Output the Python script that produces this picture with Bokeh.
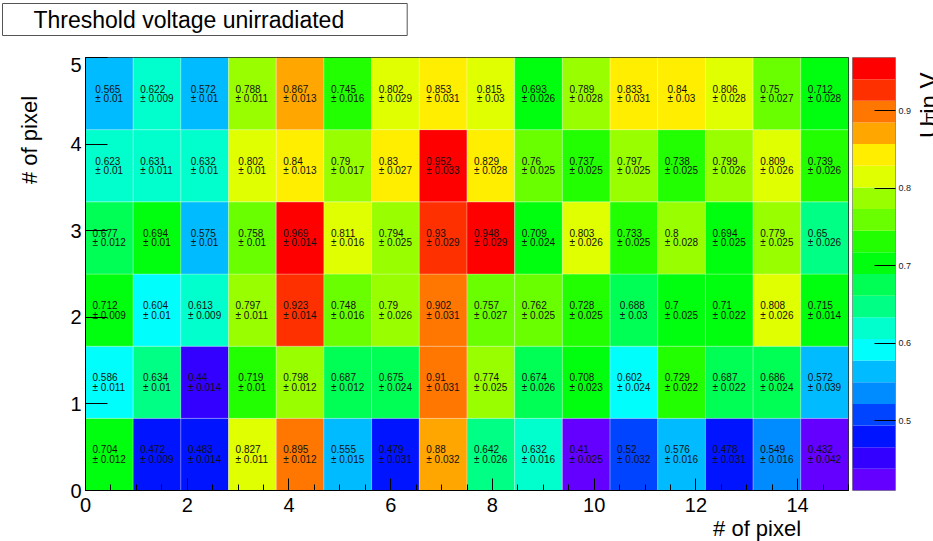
import colorsys
import math
from bokeh.plotting import figure
from bokeh.models import Range1d, FixedTicker, LinearAxis, Label, ColumnDataSource
from bokeh.layouts import row, column
from bokeh.embed import file_html
from bokeh.resources import INLINE
from bokeh.core.properties import value

# ---------------- data ----------------
n_x_bins = 16
n_y_bins = 6
x_max = 15
y_max = 5

# one list per y bin (bin 0 = bottom row)
vals_row0 = [0.704, 0.472, 0.483, 0.827, 0.895, 0.555, 0.479, 0.88, 0.642, 0.632, 0.41, 0.52, 0.576, 0.478, 0.549, 0.432]
errs_row0 = [0.012, 0.009, 0.014, 0.011, 0.012, 0.015, 0.031, 0.032, 0.026, 0.016, 0.025, 0.032, 0.016, 0.031, 0.016, 0.042]
vals_row1 = [0.586, 0.634, 0.44, 0.719, 0.798, 0.687, 0.675, 0.91, 0.774, 0.674, 0.708, 0.602, 0.729, 0.687, 0.686, 0.572]
errs_row1 = [0.011, 0.01, 0.014, 0.01, 0.012, 0.012, 0.024, 0.031, 0.025, 0.026, 0.023, 0.024, 0.022, 0.022, 0.024, 0.039]
vals_row2 = [0.712, 0.604, 0.613, 0.797, 0.923, 0.748, 0.79, 0.902, 0.757, 0.762, 0.728, 0.688, 0.7, 0.71, 0.808, 0.715]
errs_row2 = [0.009, 0.01, 0.009, 0.011, 0.014, 0.016, 0.026, 0.031, 0.027, 0.025, 0.025, 0.03, 0.025, 0.022, 0.026, 0.014]
vals_row3 = [0.677, 0.694, 0.575, 0.758, 0.969, 0.811, 0.794, 0.93, 0.948, 0.709, 0.803, 0.733, 0.8, 0.694, 0.779, 0.65]
errs_row3 = [0.012, 0.01, 0.01, 0.01, 0.014, 0.016, 0.025, 0.029, 0.029, 0.024, 0.026, 0.025, 0.028, 0.025, 0.025, 0.026]
vals_row4 = [0.623, 0.631, 0.632, 0.802, 0.84, 0.79, 0.83, 0.952, 0.829, 0.76, 0.737, 0.797, 0.738, 0.799, 0.809, 0.739]
errs_row4 = [0.01, 0.011, 0.01, 0.01, 0.013, 0.017, 0.027, 0.033, 0.028, 0.025, 0.025, 0.025, 0.025, 0.026, 0.026, 0.026]
vals_row5 = [0.565, 0.622, 0.572, 0.788, 0.867, 0.745, 0.802, 0.853, 0.815, 0.693, 0.789, 0.833, 0.84, 0.806, 0.75, 0.712]
errs_row5 = [0.01, 0.009, 0.01, 0.011, 0.013, 0.016, 0.029, 0.031, 0.03, 0.026, 0.028, 0.031, 0.03, 0.028, 0.027, 0.028]

x_major_ticks = [0, 2, 4, 6, 8, 10, 12, 14]
x_minor_ticks = [k * 0.5 for k in range(0, 31)]
y_major_ticks = [0, 1, 2, 3, 4, 5]
z_ticks = [0.5, 0.6, 0.7, 0.8, 0.9]

title_text = "Threshold voltage unirradiated"
x_title = "# of pixel"
y_title = "# of pixel"
z_title_main = "U"
z_title_sub = "T"
z_title_rest = " in V"

vals_rows = [vals_row0, vals_row1, vals_row2, vals_row3, vals_row4, vals_row5]
errs_rows = [errs_row0, errs_row1, errs_row2, errs_row3, errs_row4, errs_row5]

FONT = "Liberation Sans"

# ---------------- ROOT "pretty" palette ----------------
pretty = []
for i in range(49):
    hue = 280.0 - (i + 1) * 5.6
    r, g, b = colorsys.hls_to_rgb(hue / 360.0, 0.5, 1.0)
    pretty.append("#%02x%02x%02x" % (round(r * 255), round(g * 255), round(b * 255)))
pretty.append("#ff0000")
ndiv = 20
band_colors = [pretty[int((k + 0.99) * len(pretty) / ndiv)] for k in range(ndiv)]

all_vals = [v for rr in vals_rows for v in rr]
zmin, zmax = min(all_vals), max(all_vals)


def level_color(v):
    k = int(0.01 + (v - zmin) * ndiv / (zmax - zmin))
    return band_colors[min(max(k, 0), ndiv - 1)]


# ---------------- page geometry (pixels) ----------------
TOP_H = 57           # strip with the title box
LEFT_W = 45          # strip with the y title
P1_BL, P1_BR, P1_BB = 40, 2, 30
FRAME_W, FRAME_H = 763, 433
P1_W = P1_BL + FRAME_W + P1_BR
P1_H = FRAME_H + P1_BB
BOT_H = 21           # strip with the x title
P2_BL, P2_W_FRAME, P2_BR = 2, 43, 24
P2_W = P2_BL + P2_W_FRAME + P2_BR
MAIN_H = P1_H + BOT_H
RIGHT_W = 933 - LEFT_W - P1_W - P2_W

px_x = FRAME_W / x_max
px_y = FRAME_H / y_max
cell_fs = 10
dx = x_max / n_x_bins
dy = y_max / n_y_bins


def text_w(s):
    w = 0.0
    for c in s:
        if c == "\u00b1":
            w += 0.584
        elif c in ". ":
            w += 0.278
        else:
            w += 0.556
    return w * cell_fs


cells = dict(left=[], right=[], bottom=[], top=[], color=[])
txt1 = dict(x=[], y=[], text=[])
txt2 = dict(x=[], y=[], text=[])
for j, (vr, er) in enumerate(zip(vals_rows, errs_rows)):
    for i, (v, e) in enumerate(zip(vr, er)):
        cells["left"].append(i * dx)
        cells["right"].append((i + 1) * dx)
        cells["bottom"].append(j * dy)
        cells["top"].append((j + 1) * dy)
        cells["color"].append(level_color(v))
        s1 = f"{v:g}"
        s2 = f"\u00b1 {e:g}"
        w = max(text_w(s1), text_w(s2))
        xc = (i + 0.5) * dx
        yc = (j + 0.5) * dy
        xl = xc - (w / 2) / px_x
        txt1["x"].append(xl)
        txt1["y"].append(yc + 5 / px_y)
        txt1["text"].append(s1)
        txt2["x"].append(xl)
        txt2["y"].append(yc - 5 / px_y)
        txt2["text"].append(s2)


def text_fig(w, h):
    f = figure(width=w, height=h, x_range=Range1d(0, w), y_range=Range1d(h, 0),
               x_axis_location=None, y_axis_location=None, toolbar_location=None,
               title=None, output_backend="svg",
               min_border_left=0, min_border_right=0, min_border_top=0, min_border_bottom=0)
    f.grid.visible = False
    f.outline_line_color = None
    return f


# ---------------- main heat map ----------------
p1 = figure(width=P1_W, height=P1_H, x_range=Range1d(0, x_max), y_range=Range1d(0, y_max),
            output_backend="svg", toolbar_location=None, title=None,
            min_border_left=P1_BL, min_border_right=P1_BR, min_border_top=0, min_border_bottom=P1_BB)
p1.quad(left="left", right="right", bottom="bottom", top="top", fill_color="color",
        line_color="white", line_alpha=0.25, line_width=1, source=ColumnDataSource(cells))
for src in (txt1, txt2):
    p1.text(x="x", y="y", text="text", source=ColumnDataSource(src),
            text_font=value(FONT), text_font_size=f"{cell_fs}px", text_color="#111111",
            text_align="left", text_baseline="middle")

p1.xgrid.visible = False
p1.ygrid.visible = False
p1.outline_line_color = "black"
p1.outline_line_width = 1

xa = p1.xaxis[0]
xa.ticker = FixedTicker(ticks=x_major_ticks, minor_ticks=x_minor_ticks)
xa.major_tick_in = 12
xa.major_tick_out = 0
xa.minor_tick_in = 6
xa.minor_tick_out = 0
xa.major_label_standoff = 7
xa.major_label_text_font = FONT
xa.major_label_text_font_size = "20px"
xa.major_label_text_color = "black"
xa.axis_line_color = "black"
xa.major_tick_line_color = "black"
xa.minor_tick_line_color = "black"

ya = p1.yaxis[0]
ya.ticker = FixedTicker(ticks=y_major_ticks)
ya.major_tick_in = 22
ya.major_tick_out = 0
ya.minor_tick_line_color = None
ya.major_label_standoff = 4
ya.major_label_text_font = FONT
ya.major_label_text_font_size = "20px"
ya.major_label_text_color = "black"
ya.axis_line_color = "black"
ya.major_tick_line_color = "black"

# ---------------- colour bar ----------------
p2 = figure(width=P2_W, height=MAIN_H, x_range=Range1d(0, 1), y_range=Range1d(zmin, zmax),
            x_axis_location=None, y_axis_location=None,
            output_backend="svg", toolbar_location=None, title=None,
            min_border_left=P2_BL, min_border_right=P2_BR, min_border_top=0,
            min_border_bottom=MAIN_H - FRAME_H)
dz = (zmax - zmin) / ndiv
p2.quad(left=0, right=1, bottom=[zmin + k * dz for k in range(ndiv)],
        top=[zmin + (k + 1) * dz for k in range(ndiv)], fill_color=band_colors, line_color=None)
p2.grid.visible = False
p2.outline_line_color = "#8a8a8a"
za = LinearAxis(ticker=FixedTicker(ticks=z_ticks))
za.major_tick_in = 21
za.major_tick_out = 0
za.minor_tick_line_color = None
za.axis_line_color = None
za.major_tick_line_color = "black"
za.major_label_standoff = 3
za.major_label_text_font = FONT
za.major_label_text_font_size = "9px"
za.major_label_text_color = "#222222"
p2.add_layout(za, "right")

# ---------------- text strips ----------------
pT = text_fig(933, TOP_H)
# padding is (left, right, top, bottom); the anchor is the padded box
pT.add_layout(Label(x=2, y=19, text=title_text, text_align="left", text_baseline="middle",
                    text_font=FONT, text_font_size="23px", text_color="black",
                    background_fill_color="white", border_line_color="#555555",
                    border_line_width=1, padding=(31, 63, 3, 3)))

pL = text_fig(LEFT_W, MAIN_H)
pL.add_layout(Label(x=29, y=43, text=y_title, angle=math.pi / 2,
                    text_align="right", text_baseline="alphabetic",
                    text_font=FONT, text_font_size="22px", text_color="black"))

pB = text_fig(P1_W, BOT_H)
pB.add_layout(Label(x=800 - LEFT_W, y=8, text=x_title,
                    text_align="right", text_baseline="alphabetic",
                    text_font=FONT, text_font_size="22px", text_color="black"))

pR = text_fig(RIGHT_W, MAIN_H)
pR.add_layout(Label(x=9, y=90, text=z_title_main, angle=math.pi / 2,
                    text_align="left", text_baseline="alphabetic",
                    text_font=FONT, text_font_size="24px", text_color="black"))
pR.add_layout(Label(x=13, y=72.7, text=z_title_sub, angle=math.pi / 2,
                    text_align="left", text_baseline="alphabetic",
                    text_font=FONT, text_font_size="16px", text_color="black"))
pR.add_layout(Label(x=9, y=62.9, text=z_title_rest, angle=math.pi / 2,
                    text_align="left", text_baseline="alphabetic",
                    text_font=FONT, text_font_size="24px", text_color="black"))

layout = column(pT, row(pL, column(p1, pB), p2, pR))
open("out.html", "w").write(file_html(layout, INLINE))
